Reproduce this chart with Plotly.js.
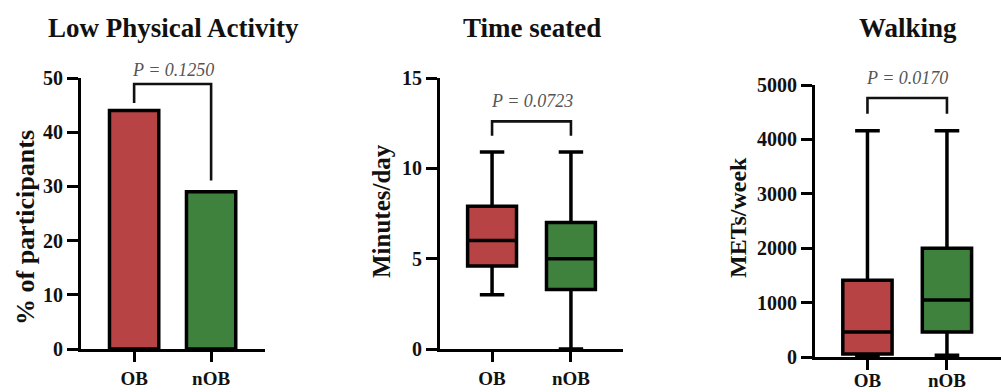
<!DOCTYPE html>
<html>
<head>
<meta charset="utf-8">
<script src="https://cdn.plot.ly/plotly-3.0.1.min.js"></script>
<style>html,body{margin:0;padding:0;background:#fff;}#chart{width:1001px;height:392px;}</style>
</head>
<body>
<div id="chart"></div>
<script>
// ---------- data ----------
const groups = ['OB', 'nOB'];
const panelTitles = ['Low Physical Activity', 'Time seated', 'Walking'];
const yTitles = ['% of participants', 'Minutes/day', 'METs/week'];

// Panel 1: bar chart
const lowPA = [44, 29];

// Panel 2: Time seated (box summaries) [OB, nOB]
const seatedQ1 = [4.6, 3.3];
const seatedMedian = [6.0, 5.0];
const seatedQ3 = [7.9, 7.0];
const seatedMin = [3.0, 0.0];
const seatedMax = [10.9, 10.9];

// Panel 3: Walking (box summaries) [OB, nOB]
const walkQ1 = [55, 460];
const walkMedian = [460, 1050];
const walkQ3 = [1410, 2000];
const walkMin = [0, 30];
const walkMax = [4158, 4158];

// y-axis ranges and ticks
const yMax = [50, 15, 5000];
const yTicks = [[0, 10, 20, 30, 40, 50], [0, 5, 10, 15], [0, 1000, 2000, 3000, 4000, 5000]];

// significance brackets: [left leg bottom, top, right leg bottom]
const bracketY = [[45.4, 48.9, 31.1], [11.8, 12.6, 11.8], [4470, 4760, 4470]];
const pText = ['P = 0.1250', 'P = 0.0723', 'P = 0.0170'];
const pY = [51.4, 13.7, 5130];

// ---------- style ----------
const RED = '#b84345';
const GREEN = '#3e823e';
const FONT = 'Liberation Serif, Times New Roman, serif';

const W = 1001, H = 392;
const xDom = [[81 / W, 265 / W], [440 / W, 623 / W], [815 / W, 1]];
const yDom = [[1 - 349 / H, 1 - 78 / H], [1 - 349 / H, 1 - 78 / H], [1 - 357 / H, 1 - 85 / H]];
const xRange = [[-0.69, 1.70], [-0.66, 1.66], [-0.66, 1.68]];

const traces = [];
const layout = {
  width: W, height: H,
  margin: {l: 0, r: 0, t: 0, b: 0},
  paper_bgcolor: '#fff', plot_bgcolor: 'rgba(0,0,0,0)',
  showlegend: false,
  boxmode: 'overlay',
  annotations: [],
  font: {family: FONT, color: '#111'}
};

for (let i = 0; i < 3; i++) {
  const n = i + 1;
  const xa = 'x' + (n === 1 ? '' : n);
  const ya = 'y' + (n === 1 ? '' : n);
  const yExt = 'y' + (n + 3);
  const xKey = 'xaxis' + (n === 1 ? '' : n);
  const yKey = 'yaxis' + (n === 1 ? '' : n);
  layout[xKey] = {
    domain: xDom[i], anchor: ya, type: 'category',
    categoryorder: 'array', categoryarray: groups,
    range: xRange[i], showgrid: false, zeroline: false,
    showline: true, linecolor: '#000', linewidth: 3,
    ticks: 'outside', ticklen: 10, tickwidth: 3, tickcolor: '#000',
    ticklabelstandoff: i === 2 ? -6 : 0,
    tickfont: {family: FONT, size: 19, color: '#111', weight: 'bold'},
    fixedrange: true
  };
  layout[yKey] = {
    domain: yDom[i], anchor: xa, range: [0, yMax[i]],
    tickvals: yTicks[i], ticktext: yTicks[i].map(String),
    showgrid: false, zeroline: false,
    showline: true, linecolor: '#000', linewidth: 3,
    ticks: 'outside', ticklen: 11, tickwidth: 3, tickcolor: '#000',
    tickfont: {family: FONT, size: 20, color: '#111', weight: 'bold'},
    fixedrange: true
  };
  // extended invisible axis for the bracket region, same scale as main axis
  const d = yDom[i];
  const extTop = yMax[i] * (1 - d[0]) / (d[1] - d[0]);
  layout['yaxis' + (n + 3)] = {
    domain: [d[0], 1], anchor: xa, range: [0, extTop], visible: false, fixedrange: true
  };
  // bracket
  traces.push({
    type: 'scatter', mode: 'lines', xaxis: xa, yaxis: yExt,
    x: [groups[0], groups[0], groups[1], groups[1]],
    y: [bracketY[i][0], bracketY[i][1], bracketY[i][1], bracketY[i][2]],
    line: {color: '#111', width: 2.6}, hoverinfo: 'skip'
  });
  layout.annotations.push({
    xref: xa, yref: yExt, x: 0.5, y: pY[i], text: pText[i], showarrow: false,
    font: {family: FONT, size: 18, color: '#555', style: 'italic'}, yanchor: 'middle'
  });
  // panel title
  layout.annotations.push({
    xref: xa + ' domain', yref: 'paper', x: 0.5, y: 1 - 28 / H, text: panelTitles[i],
    showarrow: false, yanchor: 'middle', xanchor: 'center',
    font: {family: FONT, size: 27, color: '#111', weight: 'bold'}
  });
}

// y titles
const yTitlePos = [[25, 228], [382, 211], [738, 218]];
const yTitleSize = [26, 25, 24];
yTitles.forEach((t, i) => {
  layout.annotations.push({
    xref: 'paper', yref: 'paper', x: yTitlePos[i][0] / W, y: 1 - yTitlePos[i][1] / H,
    text: t, textangle: -90, showarrow: false, xanchor: 'center', yanchor: 'middle',
    font: {family: FONT, size: yTitleSize[i], color: '#111', weight: 'bold'}
  });
});

// panel 1 bars
traces.push({
  type: 'bar', x: groups, y: lowPA, xaxis: 'x', yaxis: 'y', width: 0.64,
  marker: {color: [RED, GREEN], line: {color: '#000', width: 3.5}},
  hoverinfo: 'skip', cliponaxis: false
});

// boxes
const colors = [RED, GREEN];
function addBoxes(xa, ya, q1, med, q3, lo, hi) {
  for (let g = 0; g < 2; g++) {
    traces.push({
      type: 'box', xaxis: xa, yaxis: ya, x: [groups[g]],
      q1: [q1[g]], median: [med[g]], q3: [q3[g]], lowerfence: [lo[g]], upperfence: [hi[g]],
      width: 0.62, whiskerwidth: 0.5, boxpoints: false,
      fillcolor: colors[g], line: {color: '#000', width: 3.5}, hoverinfo: 'skip'
    });
  }
}
addBoxes('x2', 'y2', seatedQ1, seatedMedian, seatedQ3, seatedMin, seatedMax);
addBoxes('x3', 'y3', walkQ1, walkMedian, walkQ3, walkMin, walkMax);

Plotly.newPlot('chart', traces, layout, {staticPlot: true, displayModeBar: false});
</script>
</body>
</html>
